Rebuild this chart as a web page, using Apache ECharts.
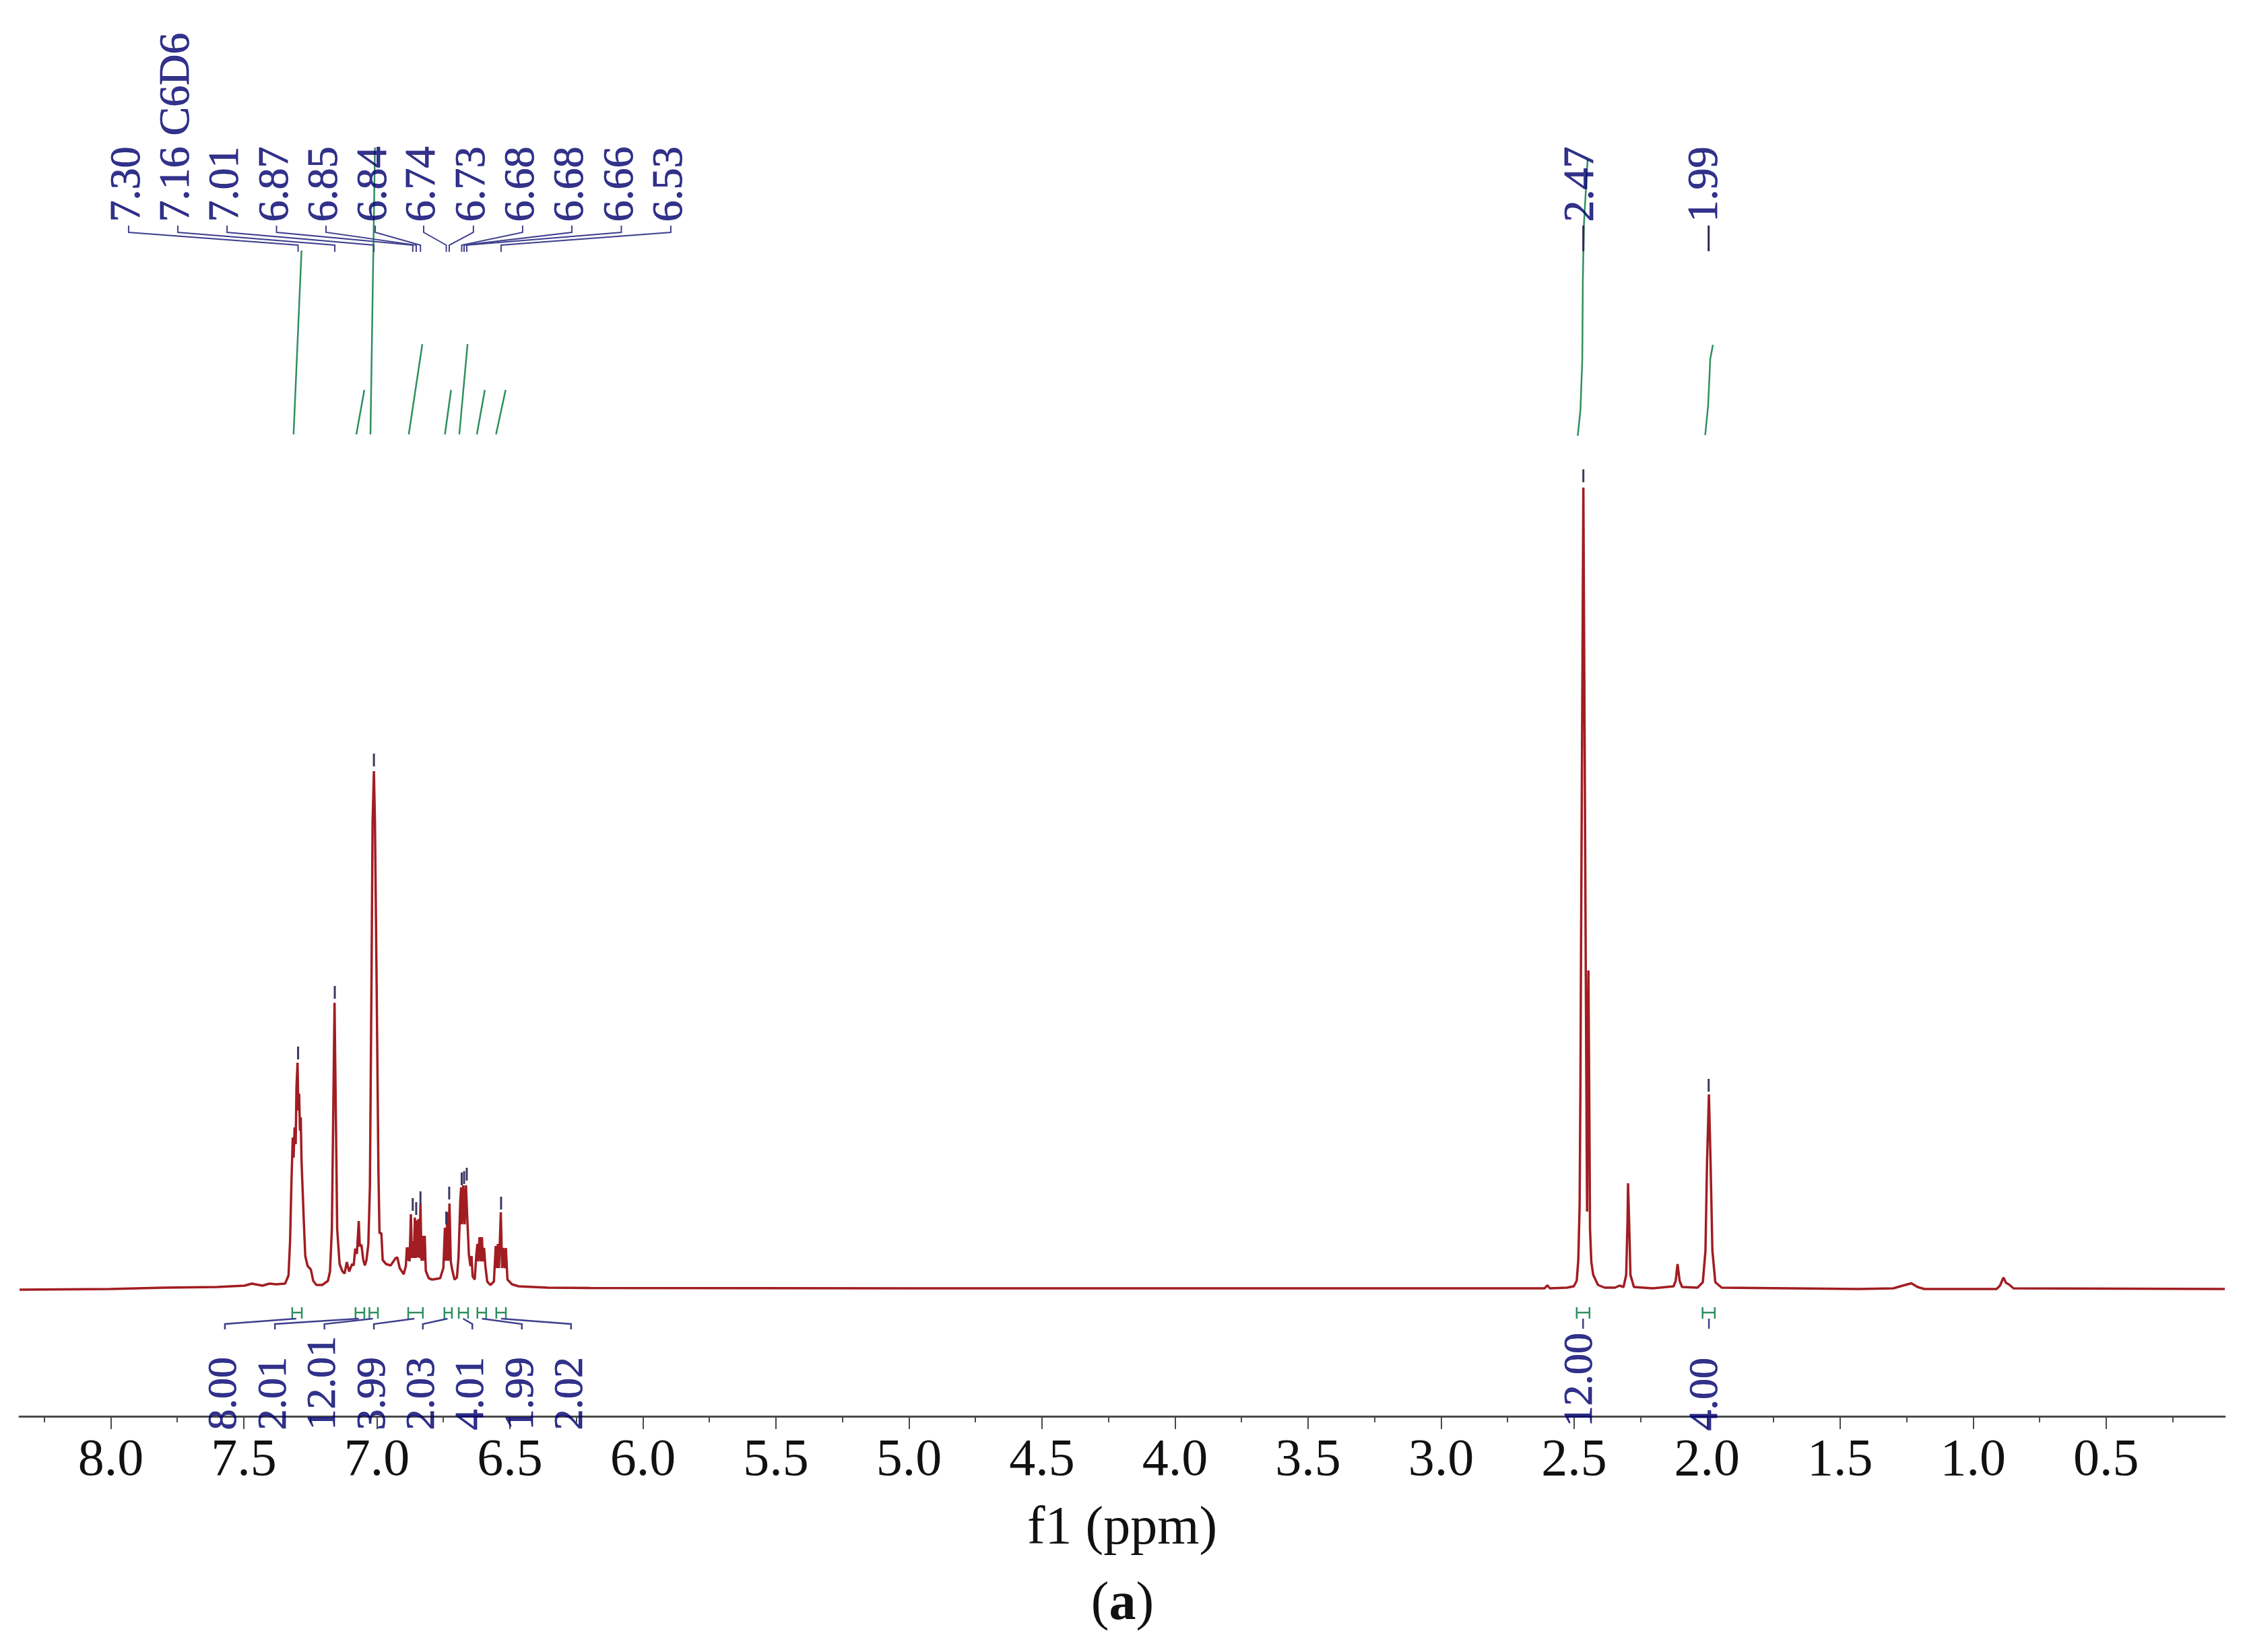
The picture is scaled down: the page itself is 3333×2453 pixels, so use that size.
<!DOCTYPE html>
<html>
<head>
<meta charset="utf-8">
<title>1H NMR</title>
<script src="https://cdn.jsdelivr.net/npm/echarts@6/dist/echarts.min.js"></script>
<style>
html, body { margin: 0; padding: 0; background: #fff; }
#chart { width: 3333px; height: 2453px; }
</style>
</head>
<body>
<div id="chart"></div>
<script>
// spectrum trace, [ppm, intensity]
var spectrum = [
    [8.343,-1],[8.0,0],[7.8,2],[7.6,3],[7.497,5],[7.47,8],[7.43,5],[7.404,8],[7.378,7],[7.345,8],
    [7.332,20],[7.326,72],[7.321,158],[7.316,225],[7.313,195],[7.309,240],[7.305,215],[7.302,300],[7.298,336],[7.295,265],
    [7.292,290],[7.289,235],[7.286,255],[7.283,190],[7.275,106],[7.269,49],[7.260,34],[7.248,29],[7.239,12],[7.227,6],
    [7.205,6],[7.184,12],[7.176,26],[7.169,89],[7.163,290],[7.159,425],[7.155,290],[7.149,89],[7.140,37],[7.129,26],
    [7.121,23],[7.113,40],[7.104,26],[7.093,37],[7.087,35],[7.081,60],[7.075,52],[7.068,101],[7.064,63],[7.058,66],
    [7.051,43],[7.045,35],[7.039,43],[7.032,66],[7.026,152],[7.020,462],[7.016,692],[7.011,769],[7.007,692],[7.001,462],
    [6.994,175],[6.990,83],[6.983,83],[6.978,43],[6.965,37],[6.948,35],[6.929,46],[6.923,47],[6.914,31],[6.899,22],
    [6.891,34],[6.887,62],[6.884,42],[6.881,62],[6.877,41],[6.872,111],[6.868,46],[6.864,71],[6.861,46],[6.857,106],
    [6.854,46],[6.850,102],[6.847,47],[6.843,104],[6.839,46],[6.836,127],[6.832,42],[6.827,79],[6.823,42],[6.820,79],
    [6.816,27],[6.805,16],[6.792,14],[6.762,16],[6.750,31],[6.744,91],[6.740,42],[6.735,114],[6.731,42],[6.727,127],
    [6.722,41],[6.718,31],[6.708,14],[6.699,17],[6.693,47],[6.686,134],[6.683,151],[6.680,96],[6.675,154],[6.670,96],
    [6.665,154],[6.659,96],[6.654,51],[6.651,49],[6.648,34],[6.644,49],[6.640,19],[6.632,14],[6.626,51],[6.622,67],
    [6.619,41],[6.614,77],[6.609,41],[6.605,77],[6.601,41],[6.597,61],[6.592,34],[6.585,11],[6.573,6],[6.560,11],
    [6.553,64],[6.549,31],[6.545,67],[6.541,31],[6.534,114],[6.529,31],[6.525,61],[6.519,31],[6.515,61],[6.509,14],
    [6.492,7],[6.467,4],[6.357,2],[6.2,1.5],[5.0,1],[3.0,1],[2.611,1],[2.600,5.5],[2.591,1],[2.527,2],
    [2.501,4],[2.490,12],[2.484,43],[2.479,124],[2.476,300],[2.474,480],[2.470,800],[2.465,1190],[2.460,800],[2.456,480],
    [2.453,250],[2.451,115],[2.449,300],[2.446,473],[2.443,300],[2.440,90],[2.435,40],[2.428,21],[2.410,6],[2.385,2],
    [2.346,2],[2.329,5],[2.314,3],[2.304,21],[2.299,101],[2.297,157],[2.293,101],[2.288,21],[2.275,3],[2.204,1],
    [2.126,4],[2.118,12],[2.111,37],[2.103,12],[2.094,3],[2.036,2],[2.016,10],[2.006,57],[2.0,191],[1.993,289],
    [1.987,191],[1.980,57],[1.969,10],[1.945,2],[1.43,0],[1.30,1],[1.26,5.5],[1.232,8.5],[1.209,3],[1.183,0],
    [0.912,0],[0.899,5],[0.886,17],[0.876,9],[0.866,7],[0.848,1],[0.054,0]
];

// x axis
var majorTicks = [8.0,7.5,7.0,6.5,6.0,5.5,5.0,4.5,4.0,3.5,3.0,2.5,2.0,1.5,1.0,0.5];
var minorTicks = [8.25,7.75,7.25,6.75,6.25,5.75,5.25,4.75,4.25,3.75,3.25,2.75,2.25,1.75,1.25,0.75,0.25];

// peak picking, left cluster
var peakLabels = ['7.30','7.16 C6D6','7.01','6.87','6.85','6.84','6.74','6.73','6.68','6.68','6.66','6.53'];
var peakPpm = [7.296,7.158,7.011,6.865,6.852,6.836,6.739,6.728,6.681,6.672,6.662,6.533];
var peakLabelPpm = [7.933,7.748,7.563,7.377,7.191,7.006,6.824,6.637,6.452,6.267,6.081,5.895];
var peakMarkTop = [360,450,795,135,129,145,115,152,173,175,180,137];

// peak picking, the two singlets
var singleLabels = ['2.47','1.99'];
var singlePpm = [2.465,1.994];
var singleLabelPpm = [2.471,2.003];
var singleMarkPpm = [2.465,1.994];
var singleMarkTop = [1217,312];

// integrals
var integralLabels = ['8.00','2.01','12.01','3.99','2.03','4.01','1.99','2.02'];
var integralLabelPpm = [7.571,7.383,7.197,7.011,6.827,6.641,6.455,6.270];
var integralCenter = [7.303,7.068,7.015,6.859,6.734,6.676,6.605,6.533];
var integralFrom = [7.318,7.080,7.028,6.882,6.746,6.692,6.622,6.551,2.490,2.017];
var integralTo = [7.282,7.047,6.996,6.827,6.718,6.657,6.589,6.515,2.442,1.971];
var singleIntegralLabels = ['12.00','4.00'];
var singleIntegralLabelPpm = [2.474,2.004];
var singleIntegralCenter = [2.466,1.993];

// running integral curves
var integralCurves = [
    [[7.313,1269],[7.283,1542]],
    [[7.077,1269],[7.047,1335]],
    [[7.024,1269],[7.007,1695]],
    [[6.880,1269],[6.829,1403]],
    [[6.744,1269],[6.721,1335]],
    [[6.690,1269],[6.659,1403]],
    [[6.624,1269],[6.594,1335]],
    [[6.552,1269],[6.516,1335]],
    [[2.486,1267],[2.476,1305],[2.469,1381],[2.467,1496],[2.463,1580],[2.449,1677]],
    [[2.007,1268],[1.996,1312],[1.988,1381],[1.978,1402]]
];

var serif = '"Liberation Serif", "Times New Roman", serif';
var navy = '#00006e';
var treeColor = '#40408f';
var green = '#2f8f5f';

function polySeries(polylines, color, width) {
    return {
        type: 'lines',
        coordinateSystem: 'cartesian2d',
        polyline: true,
        silent: true,
        z: 4,
        lineStyle: { color: color, width: width, opacity: 1 },
        data: polylines.map(function (p) { return { coords: p }; })
    };
}

function textSeries(items, size) {
    // items are [ppm, intensity, text]
    return {
        type: 'scatter',
        symbolSize: 1,
        silent: true,
        clip: false,
        z: 6,
        itemStyle: { color: 'transparent' },
        label: {
            show: true,
            position: [0, 0],
            rotate: 90,
            align: 'left',
            verticalAlign: 'middle',
            color: navy,
            textBorderColor: navy,
            textBorderWidth: 0.8,
            fontFamily: serif,
            fontSize: size,
            formatter: function (p) { return p.value[2]; }
        },
        data: items
    };
}

// tree lines
var treeLines = peakLabels.map(function (t, i) {
    return [[peakLabelPpm[i],1579],[peakLabelPpm[i],1569],[peakPpm[i],1550],[peakPpm[i],1540]];
});
var singleTree = singleLabels.map(function (t, i) {
    return [[singlePpm[i],1579],[singlePpm[i],1541]];
});
var peakMarks = peakPpm.map(function (p, i) {
    return [[p,peakMarkTop[i]],[p,peakMarkTop[i]-19]];
}).concat(singleMarkPpm.map(function (p, i) {
    return [[p,singleMarkTop[i]],[p,singleMarkTop[i]-19]];
}));

var integralTree = integralLabels.map(function (t, i) {
    return [[integralLabelPpm[i],-60],[integralLabelPpm[i],-52],[integralCenter[i],-44]];
}).concat(singleIntegralCenter.map(function (p) {
    return [[p,-44],[p,-59]];
}));

var integralBars = [];
integralFrom.forEach(function (a, i) {
    var b = integralTo[i];
    integralBars.push([[a,-27],[a,-44]]);
    integralBars.push([[b,-27],[b,-44]]);
    integralBars.push([[a,-35],[b,-35]]);
});

var peakText = peakLabels.map(function (t, i) { return [peakLabelPpm[i],1584,t]; })
    .concat(singleLabels.map(function (t, i) { return [singleLabelPpm[i],1584,t]; }));
var integralText = integralLabels.map(function (t, i) { return [integralLabelPpm[i],-210,t]; })
    .concat(singleIntegralLabels.map(function (t, i) { return [singleIntegralLabelPpm[i],i === 0 ? -205 : -211,t]; }));

var chart = echarts.init(document.getElementById('chart'), null, { renderer: 'canvas' });
chart.setOption({
    animation: false,
    backgroundColor: '#fff',
    title: {
        text: '{n|(}{b|a}{n|)}',
        left: 'center',
        top: 2338,
        textStyle: {
            fontWeight: 'normal',
            rich: {
                n: { fontFamily: serif, fontSize: 80, fontWeight: 'normal', color: '#111' },
                b: { fontFamily: serif, fontSize: 80, fontWeight: 'bold', color: '#111' }
            }
        }
    },
    grid: { left: 29, right: 30, top: 0, bottom: 350 },
    xAxis: [
        {
            type: 'value',
            inverse: true,
            min: 0.054,
            max: 8.343,
            position: 'bottom',
            splitLine: { show: false },
            axisLine: { onZero: false, lineStyle: { color: '#4a4a4a', width: 3 } },
            axisTick: { length: 19, customValues: majorTicks, lineStyle: { color: '#4a4a4a', width: 2 } },
            axisLabel: {
                customValues: majorTicks,
                color: '#111',
                fontFamily: serif,
                fontSize: 78,
                margin: 28,
                formatter: function (v) { return v.toFixed(1); }
            },
            name: 'f1 (ppm)',
            nameLocation: 'middle',
            nameGap: 128,
            nameTextStyle: { color: '#111', fontFamily: serif, fontSize: 80 }
        },
        {
            type: 'value',
            inverse: true,
            min: 0.054,
            max: 8.343,
            position: 'bottom',
            splitLine: { show: false },
            axisLine: { show: false, onZero: false },
            axisTick: { length: 9, customValues: minorTicks, lineStyle: { color: '#4a4a4a', width: 2 } },
            axisLabel: { show: false }
        }
    ],
    yAxis: { type: 'value', min: -189, max: 1914, show: false },
    series: [
        {
            type: 'line',
            data: spectrum,
            showSymbol: false,
            sampling: 'none',
            silent: true,
            z: 3,
            lineStyle: { color: '#a11d22', width: 3.5 }
        },
        polySeries(integralCurves, green, 2.5),
        polySeries(integralBars, green, 2.5),
        polySeries(treeLines, treeColor, 2),
        polySeries(singleTree, '#2a2a55', 3),
        polySeries(integralTree, treeColor, 2.5),
        polySeries(peakMarks, '#3a3a62', 3),
        textSeries(peakText, 64),
        textSeries(integralText, 62)
    ]
});
</script>
</body>
</html>
